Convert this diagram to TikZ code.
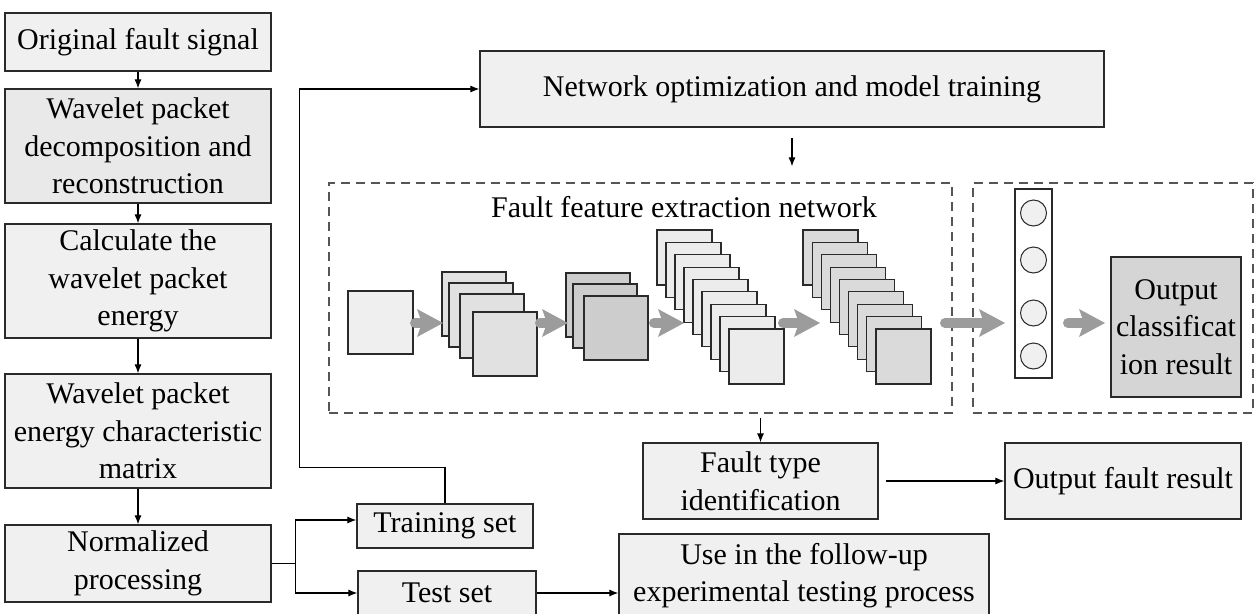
\documentclass[tikz,border=0pt]{standalone}
\usepackage{fontspec}
\setmainfont{Liberation Serif}
\usetikzlibrary{arrows.meta}
\definecolor{boxfill}{HTML}{F0F0F0}
\definecolor{boxfillb}{HTML}{E9E9E9}
\definecolor{darkfill}{HTML}{D5D5D5}
\definecolor{boxline}{HTML}{2A2A2A}
\definecolor{dashgray}{HTML}{555555}
\definecolor{arrgray}{HTML}{9C9C9C}
\definecolor{sin}{HTML}{EFEFEF}
\definecolor{sa}{HTML}{E1E1E1}
\definecolor{sb}{HTML}{CDCDCD}
\definecolor{sc}{HTML}{ECECEC}
\definecolor{sd}{HTML}{DADADA}
\newcommand\garrow[3]{%
  \draw[arrgray,line width=10pt,line cap=round] (#1+5,#3) -- (#2-20,#3);
  \fill[arrgray] (#2-26,#3-14) -- (#2,#3) -- (#2-26,#3+14) -- (#2-21,#3) -- cycle;}
\begin{document}
\begin{tikzpicture}[x=1pt,y=-1pt,
  box/.style={draw=boxline,line width=1.2pt,fill=boxfill,align=center,inner sep=0pt,
    text=black,font=\fontsize{30}{37.5}\selectfont},
  dbox/.style={draw=dashgray,line width=1.3pt,dash pattern=on 9pt off 6pt,inner sep=0pt},
  arr/.style={draw=black,line width=1.1pt,-{Latex[length=9pt,width=7pt]}},
  plain/.style={draw=black,line width=1.1pt},
  sq/.style={draw=boxline,line width=1.2pt}]
\useasboundingbox (0,0) rectangle (1255,613);

% left column
\node[box,minimum width=266pt,minimum height=58pt] (n1) at (138,42) {Original fault signal};
\node[box,fill=boxfillb,minimum width=266pt,minimum height=114pt] (n2) at (138,146) {Wavelet packet\\decomposition and\\reconstruction};
\node[box,minimum width=266pt,minimum height=114pt] (n3) at (138,281) {Calculate the\\wavelet packet\\energy};
\node[box,minimum width=266pt,minimum height=114pt] (n4) at (138,431) {Wavelet packet\\energy characteristic\\matrix};
\node[box,minimum width=266pt,minimum height=77pt] (n5) at (138,563.5) {Normalized\\processing};

\draw[arr] (n1.south) -- (n2.north);
\draw[arr] (n2.south) -- (n3.north);
\draw[arr] (n3.south) -- (n4.north);
\draw[arr] (n4.south) -- (n5.north);

% sets
\node[box,minimum width=176pt,minimum height=44pt] (train) at (445,526) {Training set};
\node[box,minimum width=178pt,minimum height=44pt] (test) at (447,593) {Test set};
\node[box,minimum width=370pt,minimum height=83pt] (use) at (804,575.5) {Use in the follow-up\\experimental testing process};

\draw[plain] (n5.east) -- ++(24,0) coordinate (br);
\draw[arr] (br) |- ([yshift=6pt]train.west);
\draw[arr] (br) |- (test.west);
\draw[arr] (test.east) -- (test.east -| use.west);

% network optimization
\node[box,minimum width=624pt,minimum height=76pt] (net) at (792,89) {Network optimization and model training};
\draw[arr] (train.north) -- ++(0,-36) -| ([xshift=-180pt]net.west) -- (net.west);

% dashed boxes
\node[dbox,minimum width=623pt,minimum height=230pt] (fe) at (640.5,298) {};
\node[dbox,minimum width=280pt,minimum height=230pt] (cl) at (1113,298) {};
\node[text=black,font=\fontsize{30}{37.5}\selectfont,inner sep=0pt] (fetitle) at (684,207) {Fault feature extraction network};
\draw[arr,shorten <=10pt,shorten >=16pt] (net.south) -- (net.south |- fe.north);

% feature maps
\draw[sq,fill=sin] (348,291) rectangle (413,354);
\foreach \x/\y in {442/272,449/283,460/294,473/312}
  \draw[sq,fill=sa] (\x,\y) rectangle ++(64,64);
\foreach \x/\y in {566/273,573/284,584/296}
  \draw[sq,fill=sb] (\x,\y) rectangle ++(64,64);
\foreach \i in {0,...,8}
  \draw[sq,fill=sc] ({657+9*\i},{230+12.375*\i}) rectangle ++(55,55);
\foreach \i in {0,...,8}
  \draw[sq,fill=sd] ({803+9.125*\i},{230+12.375*\i}) rectangle ++(55,55);

\garrow{410}{443}{323}
\garrow{535}{568}{323}
\garrow{649}{684}{323}
\garrow{778}{820}{323}
\garrow{940}{1005}{323}
\garrow{1063}{1105}{323}

% classifier
\draw[sq,line width=1.1pt,fill=white] (1015,189) rectangle (1052,378);
\foreach \y in {213,260,313,356}
  \draw[line width=1pt,draw=boxline,fill=boxfill] (1033.5,\y) circle (13);
\node[box,fill=darkfill,minimum width=130pt,minimum height=140pt] (outc) at (1176,327) {Output\\classificat\\ion result};

% fault type
\node[box,minimum width=235pt,minimum height=76pt] (fault) at (760.5,481) {Fault type\\identification};
\node[box,minimum width=236pt,minimum height=76pt] (outf) at (1123,481) {Output fault result};
\draw[arr,shorten <=4pt] (fault.north |- fe.south) -- (fault.north);
\draw[arr,shorten <=7pt] (fault.east) -- (outf.west);
\end{tikzpicture}
\end{document}
